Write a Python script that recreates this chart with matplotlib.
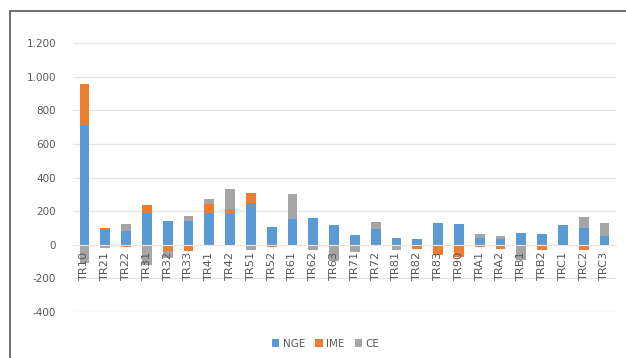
import matplotlib
matplotlib.use("Agg")
import matplotlib.pyplot as plt
import numpy as np
from matplotlib.patches import Rectangle

# categories and stacked series
cats = ["TR10", "TR21", "TR22", "TR31", "TR32", "TR33", "TR41", "TR42", "TR51", "TR52",
        "TR61", "TR62", "TR63", "TR71", "TR72", "TR81", "TR82", "TR83", "TR90", "TRA1",
        "TRA2", "TRB1", "TRB2", "TRC1", "TRC2", "TRC3"]
nge = [710, 94, 80, 186, 144, 140, 190, 180, 246, 106,
       154, 162, 116, 60, 94, 38, 32, 130, 124, 40,
       36, 68, 66, 118, 100, 54]
ime = [244, 5, -12, 48, -35, -40, 54, 30, 64, -14,
       -10, 0, 0, 0, -6, 0, -24, -60, -72, -14,
       -24, -10, -34, 0, -34, 0]
ce = [-110, -22, 44, -120, -45, 32, 28, 120, -34, 0,
      146, -34, -95, -42, 42, -34, 0, 0, 0, 24,
      16, -80, 0, 0, 64, 78]
series_names = ["NGE", "IME", "CE"]
colors = ["#5B9BD5", "#ED7D31", "#A5A5A5"]
yticks = [-400, -200, 0, 200, 400, 600, 800, 1000, 1200]

fig = plt.figure(figsize=(6.26, 3.58), dpi=100)
ax = fig.add_axes([73/626, 1-312/358, (616-73)/626, (312-43)/358])

x = np.arange(len(cats))
pos_base = np.zeros(len(cats))
neg_base = np.zeros(len(cats))
for name, vals, col in zip(series_names, [nge, ime, ce], colors):
    v = np.array(vals, dtype=float)
    bottom = np.where(v >= 0, pos_base, neg_base)
    ax.bar(x, v, bottom=bottom, width=0.47, color=col, label=name, zorder=1)
    pos_base = pos_base + np.clip(v, 0, None)
    neg_base = neg_base + np.clip(v, None, 0)

# gridlines drawn under the bars
for t in yticks:
    if t != 0:
        ax.axhline(t, color="#E6E6E6", lw=1, zorder=0)

ax.set_ylim(-400, 1200)
ax.set_xlim(-0.55, len(cats) - 0.45)
ax.set_yticks(yticks)
ax.set_yticklabels([f"{t:,}".replace(",", ".") for t in yticks])
ax.set_xticks(x)
ax.set_xticklabels(cats)

for s in ["top", "right", "left"]:
    ax.spines[s].set_visible(False)
ax.spines["bottom"].set_position(("data", 0))
ax.spines["bottom"].set_color("#F2E2D6")
ax.tick_params(axis="both", length=0, labelsize=7.5, labelcolor="#595959")
ax.tick_params(axis="y", pad=12)
ax.tick_params(axis="x", pad=5, labelrotation=90, labelsize=8.2)

fig.legend(loc="lower center", bbox_to_anchor=(0.52, 0.0), ncol=3, frameon=False,
           fontsize=7.5, handlelength=0.7, handleheight=0.7, columnspacing=1.0,
           handletextpad=0.3, labelcolor="#595959")

# chart border (partially visible in the reference)
fig.patches.append(Rectangle((10/626, -0.1), 1.2, 1 - 11/358 + 0.1,
                             transform=fig.transFigure, fill=False,
                             edgecolor="#555555", lw=1.2))

fig.savefig("out.png", dpi=100)
